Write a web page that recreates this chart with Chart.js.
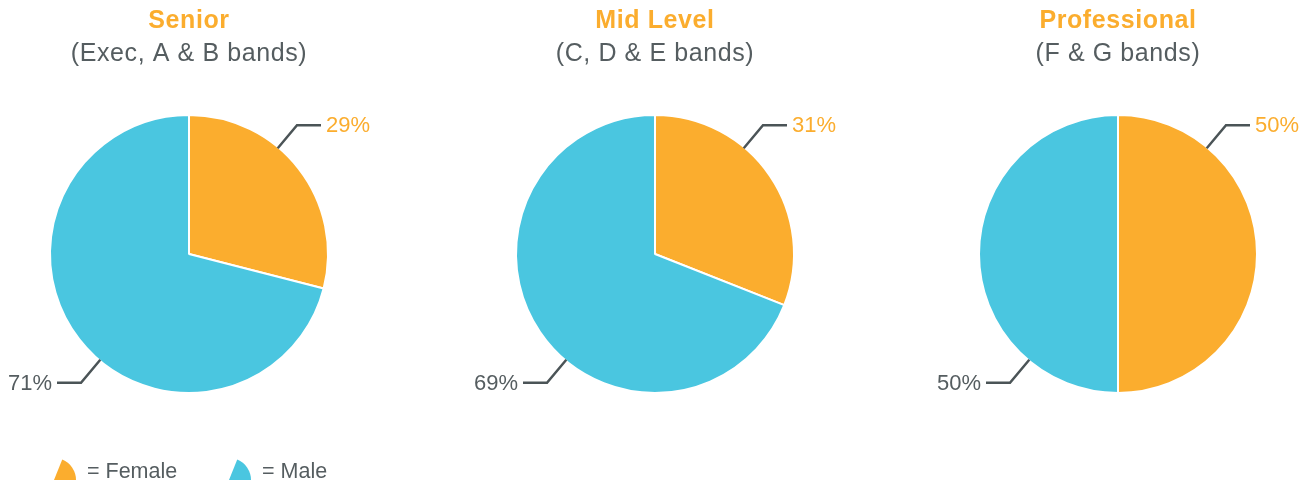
<!DOCTYPE html>
<html>
<head>
<meta charset="utf-8">
<script src="https://cdn.jsdelivr.net/npm/chart.js@4/dist/chart.umd.min.js"></script>
<style>
  body { margin: 0; background: #fff; width: 1315px; height: 487px; overflow: hidden; position: relative; font-family: "Liberation Sans", Arial, sans-serif; }
  .pie { position: absolute; top: 0; width: 378px; height: 487px; }
  .legend { position: absolute; top: 459px; font-size: 21.5px; color: #555d60; display: flex; align-items: flex-end; }
  .legend canvas { margin-right: 10px; margin-bottom: 3px; }
</style>
</head>
<body>
<div class="pie" style="left:0px"><canvas id="pie0"></canvas></div>
<div class="pie" style="left:466px"><canvas id="pie1"></canvas></div>
<div class="pie" style="left:929px"><canvas id="pie2"></canvas></div>
<div class="legend" style="left:53px"><canvas id="ico0" width="24" height="22"></canvas><span>= Female</span></div>
<div class="legend" style="left:228px"><canvas id="ico1" width="24" height="22"></canvas><span>= Male</span></div>
<script>
const grupos = ['Senior', 'Mid Level', 'Professional'];
const bandas = ['(Exec, A & B bands)', '(C, D & E bands)', '(F & G bands)'];
const generos = ['Female', 'Male'];
const mujeres = [29, 31, 50];
const hombres = [71, 69, 50];

const naranja = '#fbad2e';
const azul = '#4ac6e0';
const gris = '#555d60';
const linea = '#4b5457';

// etiquetas con linea guia
const etiquetas = {
    id: 'etiquetas',
    beforeDraw(chart) {
        // titulos un poco mas anchos
        chart.ctx.letterSpacing = '0.6px';
    },
    afterDraw(chart) {
        const ctx = chart.ctx;
        ctx.letterSpacing = '0px';
        const meta = chart.getDatasetMeta(0);
        const arco = meta.data[0];
        const cx = arco.x, cy = arco.y, r = arco.outerRadius;
        const datos = chart.data.datasets[0].data;
        const lados = [40, 220];
        ctx.save();
        ctx.font = '22px "Liberation Sans", Arial, sans-serif';
        ctx.textBaseline = 'middle';
        lados.forEach((grados, i) => {
            const a = grados * Math.PI / 180;
            const x1 = cx + (r - 1) * Math.sin(a), y1 = cy - (r - 1) * Math.cos(a);
            const x2 = cx + (r + 29) * Math.sin(a), y2 = cy - (r + 29) * Math.cos(a);
            const dir = i === 0 ? 1 : -1;
            const x3 = x2 + dir * 24;
            ctx.strokeStyle = linea;
            ctx.lineWidth = 2.5;
            ctx.beginPath();
            ctx.moveTo(x1, y1);
            ctx.lineTo(x2, y2);
            ctx.lineTo(x3, y2);
            ctx.stroke();
            ctx.fillStyle = i === 0 ? naranja : gris;
            ctx.textAlign = i === 0 ? 'left' : 'right';
            ctx.fillText(datos[i] + '%', x3 + dir * 5, y2 + 1);
        });
        ctx.restore();
    }
};

grupos.forEach((g, k) => {
    new Chart(document.getElementById('pie' + k), {
        type: 'pie',
        data: {
            labels: generos,
            datasets: [{
                data: [mujeres[k], hombres[k]],
                backgroundColor: [naranja, azul],
                borderColor: '#ffffff',
                borderWidth: 2
            }]
        },
        options: {
            responsive: true,
            maintainAspectRatio: false,
            animation: false,
            layout: { padding: { top: 0, bottom: 93, left: 0, right: 0 } },
            plugins: {
                legend: { display: false },
                tooltip: { enabled: false },
                title: {
                    display: true,
                    text: g,
                    color: naranja,
                    font: { family: '"Liberation Sans", Arial, sans-serif', size: 25, weight: 'bold' },
                    padding: { top: 6, bottom: 3 }
                },
                subtitle: {
                    display: true,
                    text: bandas[k],
                    color: gris,
                    font: { family: '"Liberation Sans", Arial, sans-serif', size: 25 },
                    padding: { top: 0, bottom: 45 }
                }
            }
        },
        plugins: [etiquetas]
    });
});

// iconos de la leyenda
[naranja, azul].forEach((c, i) => {
    const ctx = document.getElementById('ico' + i).getContext('2d');
    ctx.fillStyle = c;
    ctx.beginPath();
    ctx.moveTo(1, 21);
    ctx.arc(1, 21, 22, -68 * Math.PI / 180, 0);
    ctx.closePath();
    ctx.fill();
});
</script>
</body>
</html>
